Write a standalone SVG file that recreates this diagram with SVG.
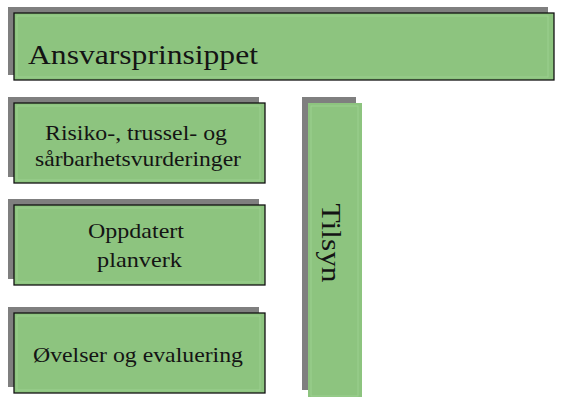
<svg xmlns="http://www.w3.org/2000/svg" width="568" height="411" viewBox="0 0 568 411">
<style>
.sh{fill:#7f7f7f}
.bx{fill:#8dc47f;stroke:#111;stroke-width:1.3}
.bn{fill:#8dc47f}
.hl{fill:none;stroke:#a3d597;stroke-width:1;opacity:0.7}
.t{font-family:"Liberation Serif","Times New Roman",serif;fill:#141414}
</style>
<rect width="568" height="411" fill="#fff"/>
<g id="ansvar">
<rect class="sh" x="8" y="7" width="540" height="68"/>
<rect class="bx" x="14" y="13" width="540" height="67"/>
<rect class="hl" x="17" y="16" width="531" height="61"/>
<text class="t" x="28" y="64" font-size="28" textLength="230" lengthAdjust="spacingAndGlyphs">Ansvarsprinsippet</text>
</g>
<g id="risiko">
<rect class="sh" x="8" y="97" width="251" height="80"/>
<rect class="bx" x="14" y="103" width="251" height="80"/>
<rect class="hl" x="17" y="106" width="243" height="74"/>
<text class="t" x="45" y="140" font-size="22" textLength="182" lengthAdjust="spacingAndGlyphs">Risiko-, trussel- og</text>
<text class="t" x="35" y="166" font-size="22" textLength="206" lengthAdjust="spacingAndGlyphs">sårbarhetsvurderinger</text>
</g>
<g id="oppdatert">
<rect class="sh" x="8" y="199" width="251" height="80"/>
<rect class="bx" x="14" y="205" width="251" height="80"/>
<rect class="hl" x="17" y="208" width="243" height="74"/>
<text class="t" x="88" y="238" font-size="22" textLength="96" lengthAdjust="spacingAndGlyphs">Oppdatert</text>
<text class="t" x="97" y="267" font-size="22" textLength="85" lengthAdjust="spacingAndGlyphs">planverk</text>
</g>
<g id="ovelser">
<rect class="sh" x="8" y="307" width="251" height="80"/>
<rect class="bx" x="14" y="313" width="251" height="80"/>
<rect class="hl" x="17" y="316" width="243" height="74"/>
<text class="t" x="33" y="362" font-size="22" textLength="210" lengthAdjust="spacingAndGlyphs">Øvelser og evaluering</text>
</g>
<g id="tilsyn">
<rect class="sh" x="302" y="97" width="54" height="293"/>
<rect class="bn" x="308" y="103" width="54" height="294"/>
<rect class="hl" x="311" y="106" width="47" height="290"/>
<text class="t" transform="translate(322,243) rotate(90)" x="0" y="0" font-size="27" text-anchor="middle" textLength="79" lengthAdjust="spacingAndGlyphs">Tilsyn</text>
</g>
<g id="connectors"></g>
</svg>
